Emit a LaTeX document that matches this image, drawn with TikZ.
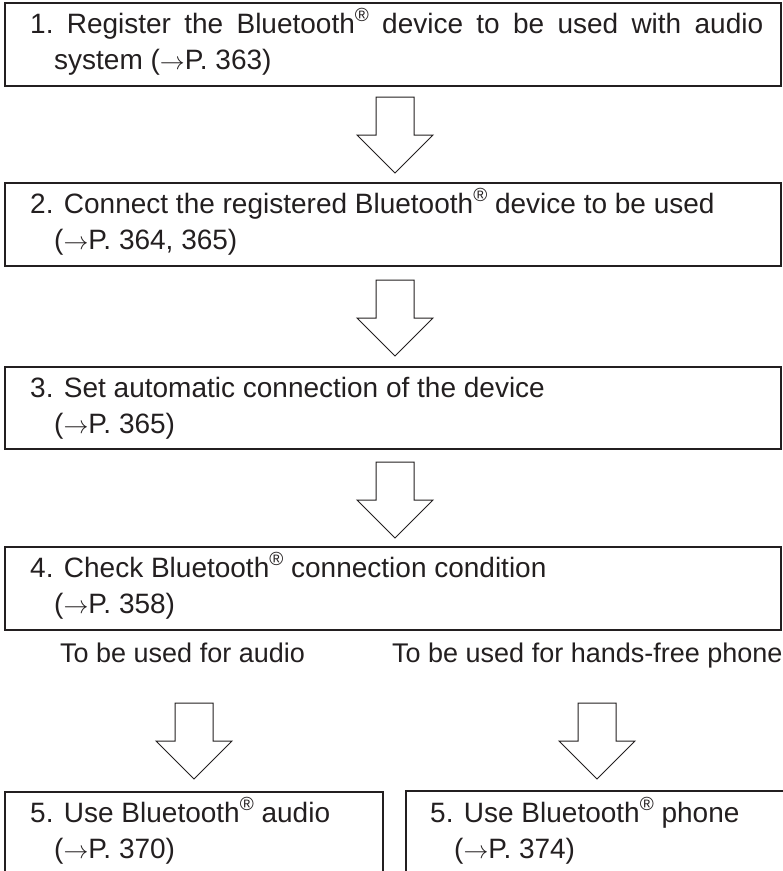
\documentclass[tikz,border=0pt]{standalone}
\usepackage{fontspec}
\setmainfont{Liberation Sans}
\definecolor{ink}{HTML}{231F20}
\newcommand{\regmark}{\raisebox{0.40em}{\fontsize{19}{19}\selectfont ®}}
\newcommand{\pref}{$\rightarrow$}
\begin{document}
\begin{tikzpicture}[x=1pt,y=-1pt,
  box/.style={draw=ink, line width=1.2pt, rectangle, inner sep=0pt, outer sep=0pt, anchor=north west},
  txt/.style={anchor=base west, inner sep=0pt, text=ink, font=\fontsize{28}{34}\selectfont},
  lab/.style={anchor=base west, inner sep=0pt, text=ink, font=\fontsize{27}{32}\selectfont},
  blk/.style={draw=ink, line width=1pt, fill=white, line join=miter}
]
\useasboundingbox (0,0) rectangle (783,871);
% boxes
\node[box, minimum width=776pt, minimum height=83pt] (b1) at (5,3) {};
\node[box, minimum width=776pt, minimum height=83pt] (b2) at (5,183) {};
\node[box, minimum width=776pt, minimum height=82pt] (b3) at (5,367) {};
\node[box, minimum width=776pt, minimum height=83pt] (b4) at (5,547) {};
\node[box, minimum width=378pt, minimum height=100pt] (b5) at (5,792) {};
\node[box, minimum width=390pt, minimum height=100pt] (b6) at (406,791) {};
% texts
\node[txt] (t1a) at (30,33) {\makebox[733pt][s]{1.\ Register the Bluetooth\regmark{} device to be used with audio}};
\node[txt] (t1b) at (54,69) {system (\pref P. 363)};
\node[txt] (t2a) at (30,213) {2. Connect the registered Bluetooth\regmark{} device to be used};
\node[txt] (t2b) at (54,249) {(\pref P. 364, 365)};
\node[txt] (t3a) at (30,397) {3. Set automatic connection of the device};
\node[txt] (t3b) at (54,433) {(\pref P. 365)};
\node[txt] (t4a) at (30,577) {4. Check Bluetooth\regmark{} connection condition};
\node[txt] (t4b) at (54,613) {(\pref P. 358)};
\node[lab] (la) at (60,662) {To be used for audio};
\node[lab] (lb) at (392,662) {To be used for hands-free phone};
\node[txt] (t5a) at (30,822) {5. Use Bluetooth\regmark{} audio};
\node[txt] (t5b) at (54,858) {(\pref P. 370)};
\node[txt] (t6a) at (430,822) {5. Use Bluetooth\regmark{} phone};
\node[txt] (t6b) at (454,858) {(\pref P. 374)};
% block arrows
\coordinate (a1) at (395,97);
\coordinate (a2) at (395,280);
\coordinate (a3) at (395,462);
\coordinate (a4) at (194,703);
\coordinate (a5) at (597,703);
\foreach \a in {a1,a2,a3,a4,a5}{
  \draw[blk] (\a) ++(-19,0) -- ++(38,0) -- ++(0,38) -- ++(19,0) -- ++(-38,38) -- ++(-38,-38) -- ++(19,0) -- cycle;
}
\end{tikzpicture}
\end{document}
